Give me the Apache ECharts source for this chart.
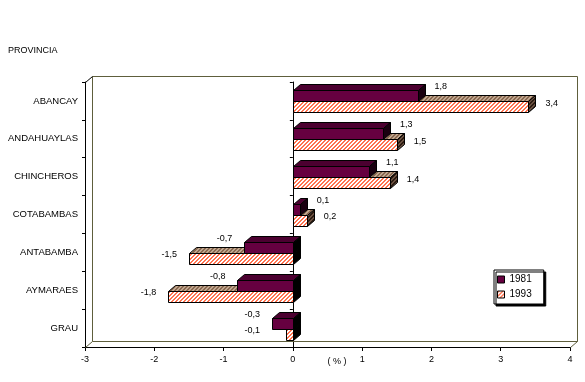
<!DOCTYPE html>
<html><head><meta charset="utf-8">
<script src="https://cdn.jsdelivr.net/npm/echarts@6/dist/echarts.min.js"></script>
<style>html,body{margin:0;padding:0;background:#fff}#c{width:585px;height:382px}</style>
</head><body><div id="c"></div>
<script>
const categories = ['ABANCAY','ANDAHUAYLAS','CHINCHEROS','COTABAMBAS','ANTABAMBA','AYMARAES','GRAU'];
const values1981 = [1.8, 1.3, 1.1, 0.1, -0.7, -0.8, -0.3];
const values1993 = [3.4, 1.5, 1.4, 0.2, -1.5, -1.8, -0.1];
const seriesNames = ['1981', '1993'];
const xMin = -3, xMax = 4, xStep = 1;

const FONT = '"Liberation Sans", Arial, sans-serif';
const DX = 7, DY = -6;

function stripe(bg, fg) {
  const c = document.createElement('canvas');
  c.width = 4; c.height = 4;
  const g = c.getContext('2d');
  g.fillStyle = bg; g.fillRect(0, 0, 4, 4);
  g.fillStyle = fg;
  for (let y = 0; y < 4; y++) for (let x = 0; x < 4; x++) if (((x + y) % 4) < 2) g.fillRect(x, y, 1, 1);
  return { image: c, repeat: 'repeat' };
}
const hatchFront = stripe('#ffffff', '#ff7350');
const hatchTop = stripe('#c0a890', '#8a6850');
const hatchSide = stripe('#6a5040', '#2a1a10');

const purpleFront = '#660040';
const purpleTop = '#4c0030';
const purpleSide = '#1a0010';

function fmt(v) { return v.toFixed(1).replace('.', ','); }

function barRenderer(isUpper, front, top, side) {
  return function (params, api) {
    const val = api.value(0), cat = api.value(1), other = api.value(2);
    const p0 = api.coord([0, cat]), p1 = api.coord([val, cat]);
    const band = api.size([0, 1])[1];
    const h = Math.round(band * 0.285);
    const yc = Math.round(p0[1] + 0.5);
    const yt = (isUpper ? yc - h : yc) + 0.5;
    const yb = yt + h;
    const x0 = Math.round(p0[0]) + 0.5, x1 = Math.round(p1[0]) + 0.5;
    const xl = Math.min(x0, x1), xr = Math.max(x0, x1);
    const sideFill = val < 0 ? '#000' : side;
    const children = [
      { type: 'polygon', shape: { points: [[xl, yt], [xl + DX, yt + DY], [xr + DX, yt + DY], [xr, yt]] },
        style: { fill: top, stroke: '#000', lineWidth: 1 } },
      { type: 'polygon', shape: { points: [[xr, yt], [xr + DX, yt + DY], [xr + DX, yb + DY], [xr, yb]] },
        style: { fill: sideFill, stroke: '#000', lineWidth: 1 } },
      { type: 'rect', shape: { x: xl, y: yt, width: xr - xl, height: h },
        style: { fill: front, stroke: '#000', lineWidth: 1 } }
    ];
    const ly = isUpper ? p0[1] - 14 : p0[1] + 2.5;
    let lx, align;
    if (val >= 0) { lx = p1[0] + 17; align = 'left'; }
    else {
      const endX = isUpper ? p1[0] : Math.min(p1[0], api.coord([other, cat])[0]);
      lx = endX - 12; align = 'right';
    }
    children.push({ type: 'text', style: { text: fmt(val), x: lx, y: ly, fill: '#000',
      font: '9px ' + FONT, align: align, verticalAlign: 'middle' } });
    return { type: 'group', children: children };
  };
}

function wallRenderer(params, api) {
  const cs = params.coordSys;
  const x = Math.round(cs.x) + 0.5, y = Math.round(cs.y) + 0.5;
  const w = Math.round(cs.width), h = Math.round(cs.height);
  const olive = '#5e5e3c';
  return { type: 'group', children: [
    { type: 'polyline', shape: { points: [[x + DX, y + h + DY], [x + DX, y + DY], [x + w + DX, y + DY], [x + w + DX, y + h + DY], [x + DX, y + h + DY]] },
      style: { stroke: olive, lineWidth: 1, fill: null } },
    { type: 'line', shape: { x1: x, y1: y, x2: x + DX, y2: y + DY }, style: { stroke: '#000', lineWidth: 1 } },
    { type: 'line', shape: { x1: x, y1: y + h, x2: x + DX, y2: y + h + DY }, style: { stroke: olive, lineWidth: 1 } },
    { type: 'line', shape: { x1: x + w, y1: y + h, x2: x + w + DX, y2: y + h + DY }, style: { stroke: olive, lineWidth: 1 } }
  ] };
}

const data1981 = categories.map((c, i) => [values1981[i], i, values1993[i]]);
const data1993 = categories.map((c, i) => [values1993[i], i, values1981[i]]);

const chart = echarts.init(document.getElementById('c'), null, { renderer: 'canvas' });
chart.setOption({
  animation: false,
  backgroundColor: '#fff',
  title: { text: 'PROVINCIA', left: 8, top: 46, padding: 0,
    textStyle: { fontSize: 9, fontWeight: 'normal', color: '#000', fontFamily: FONT } },
  legend: {
    data: seriesNames, orient: 'vertical', left: 494, top: 270, padding: [4, 12, 4, 3],
    itemWidth: 7, itemHeight: 7, itemGap: 4, icon: 'rect',
    backgroundColor: '#fff', borderColor: '#000', borderWidth: 1, borderRadius: 0,
    shadowColor: '#000', shadowOffsetX: 2, shadowOffsetY: 2, shadowBlur: 0,
    textStyle: { fontSize: 10, color: '#000', fontFamily: FONT, lineHeight: 11 },
    itemStyle: { borderColor: '#000', borderWidth: 1 }, selectedMode: false
  },
  grid: { left: 85, top: 82, right: 15, bottom: 35, containLabel: false },
  xAxis: {
    type: 'value', min: xMin, max: xMax, interval: xStep,
    axisLine: { show: true, onZero: false, lineStyle: { color: '#000', width: 1 } },
    axisTick: { show: true, length: 4, lineStyle: { color: '#000' } },
    axisLabel: { fontSize: 9, color: '#000', fontFamily: FONT, margin: 8 },
    splitLine: { show: false },
    name: '( % )', nameLocation: 'middle', nameGap: 10, nameMoveOverlap: false,
    nameTextStyle: { fontSize: 9, color: '#000', fontFamily: FONT, padding: [0, 0, 0, 19] }
  },
  yAxis: [{
    type: 'category', data: categories, inverse: true, position: 'left',
    axisLine: { show: true, onZero: false, lineStyle: { color: '#000', width: 1 } },
    axisTick: { show: true, length: 3, lineStyle: { color: '#000' } },
    axisLabel: { fontSize: 9.5, color: '#000', fontFamily: FONT, margin: 7 },
    splitLine: { show: false }
  }, {
    type: 'category', data: categories, inverse: true, position: 'left',
    axisLine: { show: true, onZero: true, lineStyle: { color: '#000', width: 1 } },
    axisTick: { show: true, length: 3, lineStyle: { color: '#000' } },
    axisLabel: { show: false }, splitLine: { show: false }
  }],
  series: [
    { type: 'custom', name: 'walls', silent: true, z: 1, data: [[0, 0]], encode: { x: 0, y: 1 },
      renderItem: wallRenderer, legendHoverLink: false },
    { type: 'custom', name: '1993', z: 2, data: data1993, encode: { x: 0, y: 1 },
      itemStyle: { color: hatchFront, borderColor: '#000', borderWidth: 1 },
      renderItem: barRenderer(false, hatchFront, hatchTop, hatchSide) },
    { type: 'custom', name: '1981', z: 3, data: data1981, encode: { x: 0, y: 1 },
      itemStyle: { color: purpleFront, borderColor: '#000', borderWidth: 1 },
      renderItem: barRenderer(true, purpleFront, purpleTop, purpleSide) }
  ]
});
</script></body></html>
